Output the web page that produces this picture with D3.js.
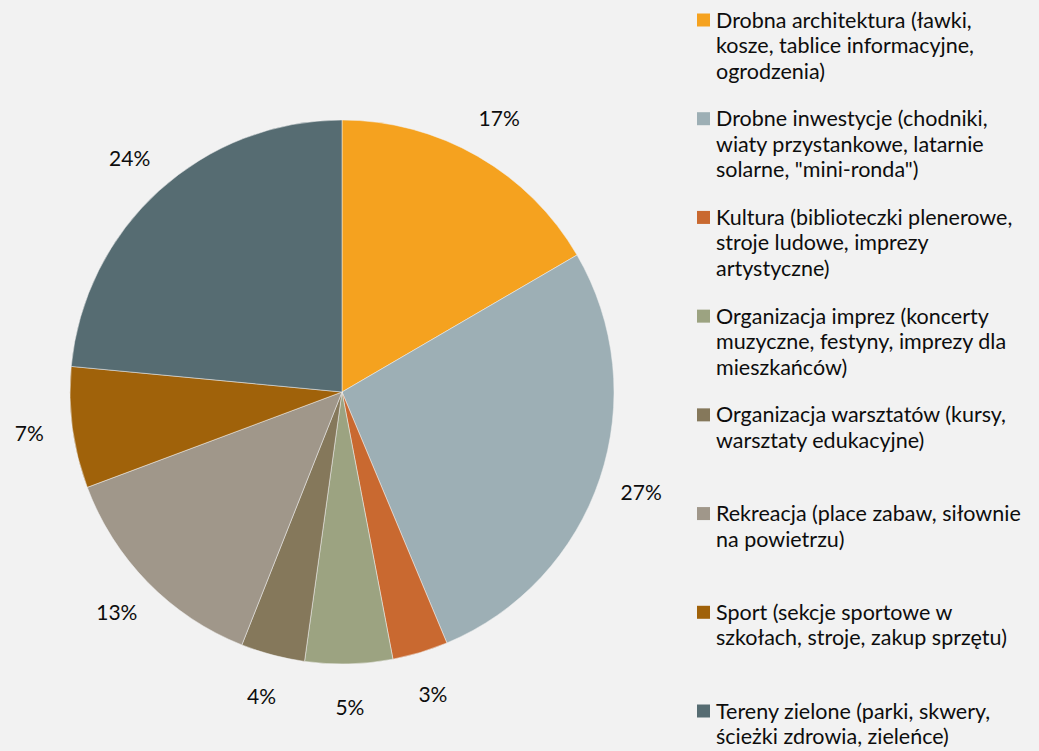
<!DOCTYPE html>
<html>
<head>
<meta charset="utf-8">
<script src="https://cdn.jsdelivr.net/npm/d3@7"></script>
<style>
  html, body { margin: 0; padding: 0; background: #f2f2f2; }
  svg { display: block; }
  text { font-family: Lato, "Open Sans", sans-serif; fill: #0d0d0d; }
</style>
</head>
<body>
<svg id="chart"></svg>
<script>
// categories (legend lines) and their shares
var categories = [
  ["Drobna architektura (ławki,", "kosze, tablice informacyjne,", "ogrodzenia)"],
  ["Drobne inwestycje (chodniki,", "wiaty przystankowe, latarnie", "solarne, \"mini-ronda\")"],
  ["Kultura (biblioteczki plenerowe,", "stroje ludowe, imprezy", "artystyczne)"],
  ["Organizacja imprez (koncerty", "muzyczne, festyny, imprezy dla", "mieszkańców)"],
  ["Organizacja warsztatów (kursy,", "warsztaty edukacyjne)"],
  ["Rekreacja (place zabaw, siłownie", "na powietrzu)"],
  ["Sport (sekcje sportowe w", "szkołach, stroje, zakup sprzętu)"],
  ["Tereny zielone (parki, skwery,", "ścieżki zdrowia, zieleńce)"]
];
var values = [16.6, 27.1, 3.3, 5.2, 3.8, 13.3, 7.2, 23.5];
var pctLabels = ["17%", "27%", "3%", "5%", "4%", "13%", "7%", "24%"];
var colors = ["#f5a21f", "#9dafb5", "#c96930", "#9ca381", "#85785b", "#a0978a", "#a0620a", "#566c72"];

var svgWidth = 1039, svgHeight = 751;
var cx = 342, cy = 392, radius = 272;

var svg = d3.select('#chart')
  .attr('width', svgWidth)
  .attr('height', svgHeight);

var g = svg.append('g')
  .attr('transform', 'translate(' + cx + ',' + cy + ')');

var pie = d3.pie().sort(null).value(function(d) { return d; });
var arc = d3.arc().innerRadius(0).outerRadius(radius);
var labelArc = d3.arc().innerRadius(radius * 1.16).outerRadius(radius * 1.16);

var arcs = pie(values);

g.selectAll('path')
  .data(arcs)
  .enter()
  .append('path')
  .attr('d', arc)
  .attr('fill', function(d, i) { return colors[i]; })
  .attr('stroke', '#f2f2f2')
  .attr('stroke-width', 0.5);

g.selectAll('text.pct')
  .data(arcs)
  .enter()
  .append('text')
  .attr('class', 'pct')
  .attr('transform', function(d) { return 'translate(' + labelArc.centroid(d) + ')'; })
  .attr('text-anchor', 'middle')
  .attr('dy', '0.35em')
  .style('font-size', '21px')
  .text(function(d, i) { return pctLabels[i]; });

// legend
var legendY = d3.scalePoint()
  .domain(d3.range(categories.length))
  .range([20, 711]);

var legend = svg.append('g')
  .selectAll('g')
  .data(categories)
  .enter()
  .append('g')
  .attr('transform', function(d, i) { return 'translate(697,' + legendY(i) + ')'; });

legend.append('rect')
  .attr('x', 0)
  .attr('y', -6.5)
  .attr('width', 13)
  .attr('height', 13)
  .attr('fill', function(d, i) { return colors[i]; });

legend.append('text')
  .attr('x', 19)
  .style('font-size', '21.5px')
  .selectAll('tspan')
  .data(function(d) { return d; })
  .enter()
  .append('tspan')
  .attr('x', 19)
  .attr('y', function(d, j) { return j * 25.5; })
  .attr('dy', '0.35em')
  .text(function(d) { return d; });
</script>
</body>
</html>
